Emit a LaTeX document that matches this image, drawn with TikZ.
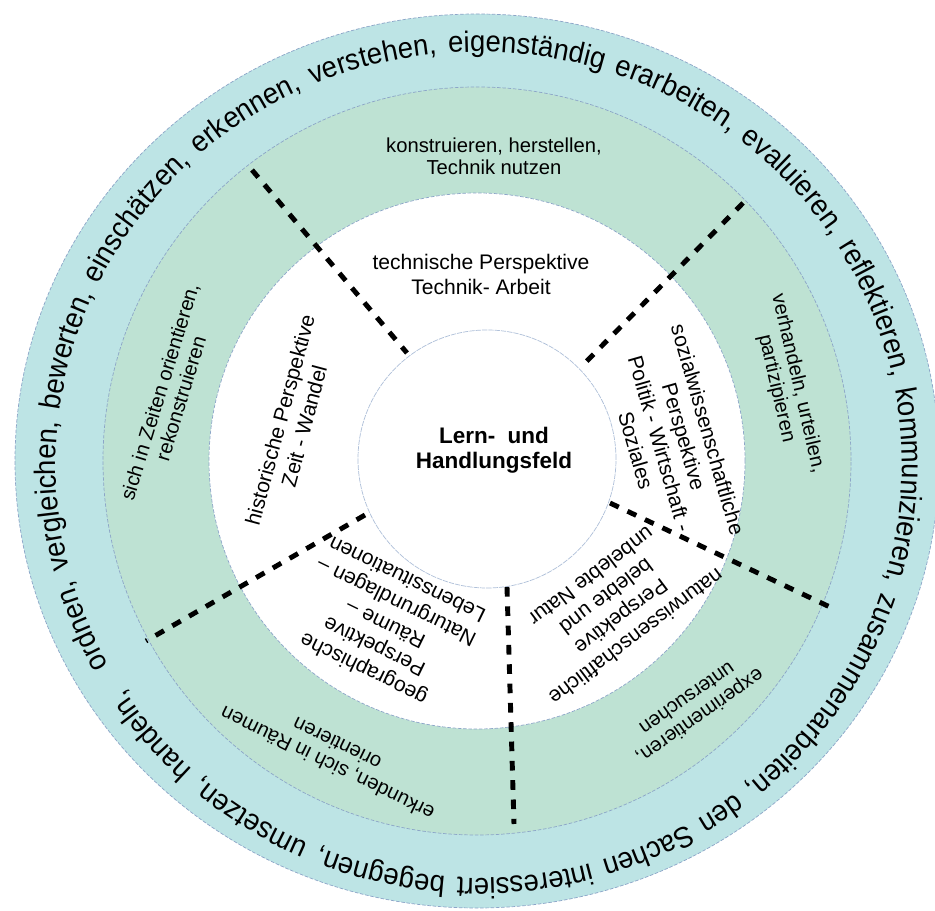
\documentclass[tikz,border=0pt]{standalone}
\usepackage{fontspec}
\setmainfont{Liberation Sans}
\newfontfamily\edgefont[FakeStretch=0.93]{Liberation Sans}
\usetikzlibrary{decorations.text}

\definecolor{ringblue}{RGB}{189,228,229}
\definecolor{ringgreen}{RGB}{190,226,211}
\definecolor{edgeblue}{RGB}{140,165,200}

\begin{document}
\begin{tikzpicture}[x=0.02cm,y=0.02cm,
    edge/.style={draw=edgeblue,line width=0.4pt,dash pattern=on 2pt off 1pt},
    divider/.style={line width=2.8pt,dash pattern=on 5.5pt off 5.5pt},
    persp/.style={align=center,font=\fontsize{12}{14.2}\selectfont},
    skill/.style={align=center,font=\fontsize{11.5}{12.6}\selectfont}]
  \clip (-477,-450) rectangle (458,461);
  \fill[white] (-477,-450) rectangle (458,461);

  % rings from outside in
  \fill[ringblue,edge] (0,0) ellipse [x radius=462,y radius=447];
  \fill[ringgreen,edge] (0,0) circle [radius=374];
  \fill[white,edge] (0,0) circle [radius=268];
  \filldraw[fill=white,draw=edgeblue!70,line width=0.4pt,dash pattern=on 3pt off 0.6pt] (10,2) circle [radius=129];

  % sector borders
  \coordinate (th-out) at (-225,291); \coordinate (th-in) at (-70,108);
  \coordinate (ts-out) at (266,258); \coordinate (ts-in) at (104,94);
  \coordinate (sn-in) at (133,-42); \coordinate (sn-out) at (355,-147);
  \coordinate (ng-in) at (30,-126); \coordinate (ng-out) at (37,-363);
  \coordinate (gh-in) at (-112,-54); \coordinate (gh-out) at (-331,-180);
  \draw[divider] (th-out) -- (th-in); \draw[divider] (ts-out) -- (ts-in);
  \draw[divider] (sn-in) -- (sn-out); \draw[divider] (ng-in) -- (ng-out);
  \draw[divider] (gh-in) -- (gh-out);

  % centre
  \node[align=center,font=\fontsize{12.8}{14.2}\selectfont\bfseries] (core) at (17,11) {Lern-~ und\\Handlungsfeld};

  % perspectives
  \node[persp] (tech) at (4,187) {technische Perspektive\\Technik- Arbeit};
  \node[persp,rotate=75] (hist) at (-185,38) {historische Perspektive\\Zeit - Wandel};
  \node[persp,rotate=-74] (soc) at (195,21) {sozialwissenschaftliche\\Perspektive\\Politik - Wirtschaft -\\Soziales};
  \node[persp,rotate=217] (nat) at (137,-146) {naturwissenschaftliche\\Perspektive\\belebte und\\unbelebte Natur};
  \node[persp,rotate=154] (geo) at (-92,-164) {geographische\\Perspektive\\Räume –\\Naturgrundlagen –\\Lebenssituationen};

  % ways of working
  \node[skill] (tech-s) at (17,305) {konstruieren, herstellen,\\Technik nutzen};
  \node[skill,rotate=73] (hist-s) at (-307,66) {sich in Zeiten orientieren,\\rekonstruieren};
  \node[skill,rotate=-77] (soc-s) at (310,75) {verhandeln, urteilen,\\partizipieren};
  \node[skill,rotate=215] (nat-s) at (217,-247) {experimentieren,\\untersuchen};
  \node[skill,rotate=154] (geo-s) at (-145,-293) {erkunden, sich in Räumen\\orientieren};

  % general skills round the edge
  \path[decorate,decoration={text along path,text align=fit to path stretching spaces,
      text={|\edgefont\fontsize{16.8}{19}\selectfont|ordnen, vergleichen, bewerten, einschätzen, erkennen, verstehen, eigenständig erarbeiten, evaluieren, reflektieren, kommunizieren, zusammenarbeiten, den Sachen interessiert begegnen, umsetzen, handeln,}}]
    (2,-4) ++(209:423 and 413) arc [start angle=209,end angle=-147,x radius=423,y radius=413];
\end{tikzpicture}
\end{document}
